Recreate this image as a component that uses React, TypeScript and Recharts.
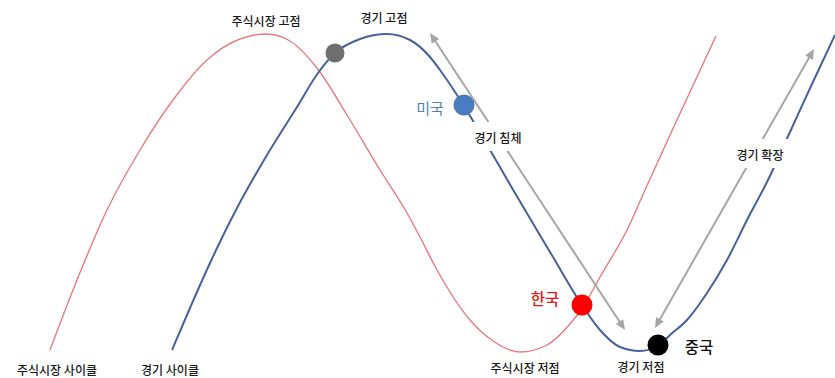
import React from 'react';
import { ComposedChart, Line, XAxis, YAxis, Scatter, ReferenceDot, ReferenceLine } from 'recharts';

// Conceptual cycle diagram: x = time position, y = depth from the top (axis reversed)
const stockT = [50, 73, 107, 140, 173, 207, 240, 267, 290, 317, 347, 380, 407, 420, 437, 470, 493, 520, 547, 570, 583, 600, 628, 645, 670, 716];
const stockV = [350, 290, 210, 150, 100, 60, 39, 34, 41, 68, 115, 170, 213, 237, 270, 320, 341, 352, 345, 324, 307, 277, 228, 190, 135, 36];

const econT = [172, 190, 210, 237, 267, 297, 318, 335, 360, 387, 410, 430, 440, 464, 490, 512, 553, 580, 600, 620, 640, 658, 670, 687, 707, 727, 747, 768, 790, 812, 835];
const econV = [350, 308, 263, 208, 155, 107, 73, 53, 39, 34, 40, 57, 70, 106, 150, 188, 257, 302, 330, 347, 351, 346, 335, 320, 293, 260, 220, 180, 132, 84, 35];

const markerNames = ['peak', '미국', '한국', '중국'];
const markerT = [335, 464, 582, 658];
const markerV = [53, 105, 305, 345];
const markerColors = ['#6f6f6f', '#4a7dbf', '#ff0000', '#000000'];

const labelTexts = ['주식시장 고점', '경기 고점', '미국', '경기 침체', '한국', '중국', '경기 확장', '주식시장 저점', '경기 저점', '주식시장 사이클', '경기 사이클'];
const labelT = [266, 384, 430, 498, 545, 699, 760, 525, 641, 57, 170];
const labelV = [20, 17, 107, 137, 298, 346, 154, 367, 366, 369, 369];
const labelKinds = ['n', 'n', 'us', 'box', 'kr', 'cn', 'box', 'n', 'n', 'n', 'n'];

const recessionArrow = [{ x: 430, y: 33 }, { x: 625, y: 330 }];
const expansionArrow = [{ x: 655, y: 328 }, { x: 814, y: 49 }];

// Merge both series into one table keyed by t
const rowMap = new Map<number, any>();
stockT.forEach((t, i) => { rowMap.set(t, { ...(rowMap.get(t) || { t }), s: stockV[i] }); });
econT.forEach((t, i) => { rowMap.set(t, { ...(rowMap.get(t) || { t }), e: econV[i] }); });
const chartData = Array.from(rowMap.values()).sort((a, b) => a.t - b.t);

const labelData = labelTexts.map((text, i) => ({ t: labelT[i], v: labelV[i], text, kind: labelKinds[i] }));

const FONT = "'Noto Sans CJK KR', 'Noto Sans', sans-serif";

const ArrowShape = (props: any) => {
  const { x1, y1, x2, y2 } = props;
  const dx = x2 - x1;
  const dy = y2 - y1;
  const len = Math.sqrt(dx * dx + dy * dy);
  const ux = dx / len;
  const uy = dy / len;
  const px = -uy;
  const py = ux;
  const hl = 10;
  const hw = 4.5;
  const head = (tx: number, ty: number, dir: number) => {
    const bx = tx - dir * ux * hl;
    const by = ty - dir * uy * hl;
    return `${tx},${ty} ${bx + px * hw},${by + py * hw} ${bx - px * hw},${by - py * hw}`;
  };
  return (
    <g>
      <line x1={x1 + ux * 8} y1={y1 + uy * 8} x2={x2 - ux * 8} y2={y2 - uy * 8} stroke="#a6a6a6" strokeWidth={2} />
      <polygon points={head(x1, y1, -1)} fill="#a6a6a6" />
      <polygon points={head(x2, y2, 1)} fill="#a6a6a6" />
    </g>
  );
};

const LabelShape = (props: any) => {
  const { cx, cy, payload } = props;
  const kind = payload.kind;
  let fill = '#1a1a1a';
  let size = 12;
  let weight: any = 500;
  if (kind === 'us') { fill = '#4f7fbc'; size = 15; weight = 'normal'; }
  if (kind === 'kr') { fill = '#e01b1b'; size = 15.5; weight = 500; }
  if (kind === 'cn') { fill = '#111111'; size = 15.5; weight = 500; }
  return (
    <g>
      {kind === 'box' ? <rect x={cx - 33} y={cy - 15} width={66} height={29} fill="#ffffff" /> : null}
      <text x={cx} y={cy} textAnchor="middle" dominantBaseline="central" fontFamily={FONT} fontSize={size} fontWeight={weight} fill={fill}>
        {payload.text}
      </text>
    </g>
  );
};

export default function App() {
  return (
    <div style={{ position: 'absolute', left: 0, top: 0, background: '#ffffff' }}>
      <ComposedChart width={835} height={378} data={chartData} margin={{ top: 0, right: 0, bottom: 0, left: 0 }}>
        <XAxis type="number" dataKey="t" domain={[0, 835]} hide allowDataOverflow />
        <YAxis type="number" domain={[0, 378]} reversed hide allowDataOverflow />
        <Line dataKey="s" type="monotone" connectNulls stroke="#e97b7b" strokeWidth={1.4} dot={false} activeDot={false} isAnimationActive={false} />
        <Line dataKey="e" type="monotone" connectNulls stroke="#46629b" strokeWidth={2} dot={false} activeDot={false} isAnimationActive={false} />
        <ReferenceLine segment={recessionArrow} shape={ArrowShape} ifOverflow="visible" />
        <ReferenceLine segment={expansionArrow} shape={ArrowShape} ifOverflow="visible" />
        {markerNames.map((name, i) => (
          <ReferenceDot key={name} x={markerT[i]} y={markerV[i]} r={i === 0 ? 9.5 : 10.5} fill={markerColors[i]} stroke="none" ifOverflow="visible" />
        ))}
        <Scatter data={labelData} dataKey="v" shape={LabelShape} isAnimationActive={false} />
      </ComposedChart>
    </div>
  );
}
